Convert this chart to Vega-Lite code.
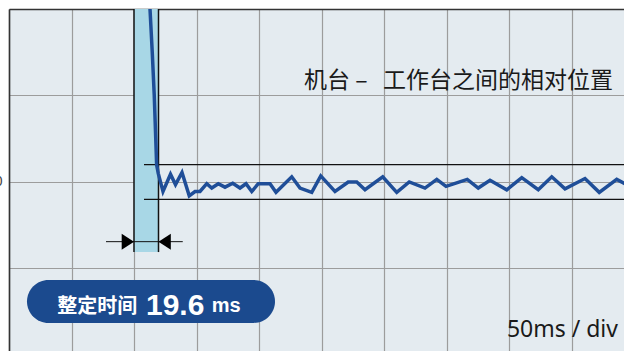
{
  "$schema": "https://vega.github.io/schema/vega-lite/v6.json",
  "width": 615,
  "height": 342,
  "autosize": {"type": "none"},
  "padding": {"left": 9, "top": 9, "right": 0, "bottom": 0},
  "background": "white",
  "config": {
    "view": {"stroke": null, "fill": "#e4ebf0"},
    "axis": {"gridColor": "#9c9c9c", "gridWidth": 1.2, "gridOpacity": 1}
  },
  "datasets": {
    "band": [{"t": 100, "t2": 119.6, "v": 2, "v2": -0.81}],
    "edges": [{"t": 100, "v": 2, "v2": -0.81}, {"t": 119.6, "v": 2, "v2": -0.81}],
    "tol": [{"t": 108, "t2": 492, "v": 0.2}, {"t": 108, "t2": 492, "v": -0.2}],
    "arrow": [{"t": 77.6, "t2": 139, "v": -0.69}],
    "triR": [{"t": 100, "v": -0.69}],
    "triL": [{"t": 119.6, "v": -0.69}],
    "badge": [{"t": 14.4, "t2": 212.8, "v": -1.133, "v2": -1.63}],
    "title": [{"t": 483.2, "v": 1.081, "label": "机台 –\u00a0\u00a0\u00a0工作台之间的相对位置"}],
    "lab1": [{"t": 38.6, "v": -1.51, "label": "整定时间"}],
    "lab2": [{"t": 109.6, "v": -1.538, "label": "19.6"}],
    "lab3": [{"t": 162.2, "v": -1.5, "label": "ms"}],
    "scale": [{"t": 487.2, "v": -1.788, "label": "50ms / div"}],
    "curve": [
      {"t": 110.8, "v": 2.6}, {"t": 112.8, "v": 2.0}, {"t": 114.6, "v": 1.5}, {"t": 116.2, "v": 1.0},
      {"t": 117.4, "v": 0.5}, {"t": 118.1, "v": 0.2}, {"t": 119.4, "v": 0.10}, {"t": 123.2, "v": -0.11},
      {"t": 129.2, "v": 0.09}, {"t": 133.2, "v": -0.03}, {"t": 138.4, "v": 0.11}, {"t": 144.2, "v": -0.16},
      {"t": 148.8, "v": -0.11}, {"t": 152.8, "v": -0.11}, {"t": 158.2, "v": -0.02}, {"t": 162.2, "v": -0.07},
      {"t": 167.4, "v": -0.02}, {"t": 172.8, "v": -0.06}, {"t": 179.0, "v": -0.015}, {"t": 184.8, "v": -0.07},
      {"t": 189.6, "v": -0.02}, {"t": 194.2, "v": -0.11}, {"t": 199.4, "v": -0.02}, {"t": 208.8, "v": -0.02},
      {"t": 213.6, "v": -0.12}, {"t": 226.2, "v": 0.06}, {"t": 232.8, "v": -0.07}, {"t": 242.2, "v": -0.12},
      {"t": 249.4, "v": 0.07}, {"t": 260.8, "v": -0.11}, {"t": 271.4, "v": 0.0}, {"t": 278.2, "v": 0.0},
      {"t": 284.8, "v": -0.09}, {"t": 299.0, "v": 0.06}, {"t": 310.2, "v": -0.12}, {"t": 320.2, "v": 0.0},
      {"t": 332.8, "v": -0.07}, {"t": 342.2, "v": 0.03}, {"t": 349.6, "v": -0.05}, {"t": 366.6, "v": 0.03},
      {"t": 375.4, "v": -0.07}, {"t": 384.8, "v": 0.02}, {"t": 398.2, "v": -0.09}, {"t": 410.2, "v": 0.05},
      {"t": 423.4, "v": -0.09}, {"t": 434.2, "v": 0.06}, {"t": 444.8, "v": -0.08}, {"t": 460.8, "v": 0.04},
      {"t": 472.2, "v": -0.12}, {"t": 486.2, "v": 0.03}, {"t": 496.8, "v": -0.05}
    ]
  },
  "encoding": {
    "x": {
      "field": "t", "type": "quantitative",
      "scale": {"domain": [0, 492], "nice": false, "zero": false},
      "axis": {"orient": "top", "values": [0, 50, 100, 150, 200, 250, 300, 350, 400, 450], "grid": true, "labels": false, "ticks": false, "domain": true, "domainColor": "#333333", "domainWidth": 1.6, "title": null}
    },
    "y": {
      "field": "v", "type": "quantitative",
      "scale": {"domain": [-1.954, 2], "nice": false, "zero": false},
      "axis": {"values": [-1, 0, 1, 2], "grid": true, "ticks": false, "domain": true, "domainColor": "#333333", "domainWidth": 1.6, "title": null, "labelExpr": "datum.value === 0 ? '0' : ''", "labelPadding": 7, "labelFontSize": 14, "labelColor": "#444444", "labelFont": "Liberation Sans"}
    }
  },
  "layer": [
    {"data": {"name": "band"}, "mark": {"type": "rect", "color": "#a8d7e6"}, "encoding": {"x2": {"field": "t2"}, "y2": {"field": "v2"}}},
    {"data": {"name": "edges"}, "mark": {"type": "rule", "color": "#111111", "strokeWidth": 1.5}, "encoding": {"y2": {"field": "v2"}}},
    {"data": {"name": "tol"}, "mark": {"type": "rule", "color": "#111111", "strokeWidth": 1.2}, "encoding": {"x2": {"field": "t2"}}},
    {"data": {"name": "curve"}, "mark": {"type": "line", "color": "#1f4e98", "strokeWidth": 3.5, "clip": true}, "encoding": {}},
    {"data": {"name": "arrow"}, "mark": {"type": "rule", "color": "#111111", "strokeWidth": 1}, "encoding": {"x2": {"field": "t2"}}},
    {"data": {"name": "triR"}, "mark": {"type": "point", "shape": "M0,0L-1.54,-1L-1.54,1Z", "filled": true, "color": "#000000", "opacity": 1, "size": 256}, "encoding": {}},
    {"data": {"name": "triL"}, "mark": {"type": "point", "shape": "M0,0L1.54,-1L1.54,1Z", "filled": true, "color": "#000000", "opacity": 1, "size": 256}, "encoding": {}},
    {"data": {"name": "badge"}, "mark": {"type": "rect", "color": "#1b4a8e", "cornerRadius": 21.5}, "encoding": {"x2": {"field": "t2"}, "y2": {"field": "v2"}}},
    {"data": {"name": "title"}, "mark": {"type": "text", "align": "right", "baseline": "alphabetic", "font": "Noto Sans CJK SC", "fontSize": 23, "color": "#1a1a1a"}, "encoding": {"text": {"field": "label"}}},
    {"data": {"name": "lab1"}, "mark": {"type": "text", "align": "left", "baseline": "alphabetic", "font": "Noto Sans CJK SC", "fontSize": 20, "fontWeight": "bold", "color": "#ffffff"}, "encoding": {"text": {"field": "label"}}},
    {"data": {"name": "lab2"}, "mark": {"type": "text", "align": "left", "baseline": "alphabetic", "font": "Liberation Sans", "fontSize": 30, "fontWeight": "bold", "color": "#ffffff"}, "encoding": {"text": {"field": "label"}}},
    {"data": {"name": "lab3"}, "mark": {"type": "text", "align": "left", "baseline": "alphabetic", "font": "Liberation Sans", "fontSize": 20, "fontWeight": "bold", "color": "#ffffff"}, "encoding": {"text": {"field": "label"}}},
    {"data": {"name": "scale"}, "mark": {"type": "text", "align": "right", "baseline": "alphabetic", "font": "Noto Sans", "fontSize": 23, "color": "#1a1a1a"}, "encoding": {"text": {"field": "label"}}}
  ]
}
